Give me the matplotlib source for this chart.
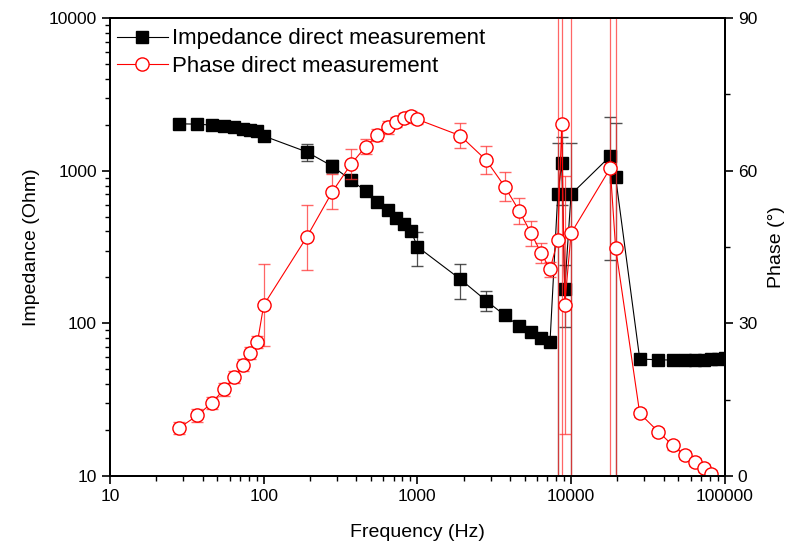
import numpy as np
import matplotlib
matplotlib.use("Agg")
import matplotlib.pyplot as plt
from matplotlib.lines import Line2D
from matplotlib.ticker import FuncFormatter, LogLocator, MultipleLocator

plt.rcParams['font.family'] = ['Liberation Sans', 'DejaVu Sans']

# --- data ---
freq = [28, 37, 46, 55, 64, 73, 82, 91, 100,
        190, 280, 370, 460, 550, 640, 730, 820, 910, 1000,
        1900, 2800, 3700, 4600, 5500, 6400, 7300, 8200, 8700, 9100, 10000,
        18000, 19500, 28000, 37000, 46000, 55000, 64000, 73000, 82000, 91000, 100000]

impedance = [2030, 2020, 1990, 1960, 1925, 1890, 1860, 1830, 1690,
             1330, 1070, 867, 738, 626, 552, 492, 445, 402, 318,
             195, 141, 113, 96, 88, 80.5, 76, 700, 1127, 168, 700,
             1247, 908, 58.4, 57.7, 57.5, 57.5, 57.5, 57.8, 58.2, 58.6, 59]

imp_err = [30, 30, 30, 30, 30, 30, 30, 30, 130,
           175, 110, 60, 30, 15, 15, 15, 15, 15, 80,
           50, 21, 8, 5, 4, 4, 3, 824, 530, 73, 824,
           986, 1135, 1, 1, 1, 1, 1, 1, 1, 1, 1]

phase = [9.4, 11.9, 14.4, 17.0, 19.4, 21.8, 24.1, 26.3, 33.6,
         46.9, 55.9, 61.3, 64.7, 67.0, 68.5, 69.6, 70.3, 70.7, 70.1,
         66.9, 62.1, 56.9, 52.1, 47.7, 43.8, 40.6, 46.4, 69.1, 33.6, 47.7,
         60.5, 44.9, 12.3, 8.7, 6.0, 4.1, 2.8, 1.5, 0.4, -1.8, -3.0]

phase_err = [1.2, 1.2, 1.2, 1.2, 1.2, 1.2, 1.2, 1.2, 8.0,
             6.4, 3.5, 3.0, 1.5, 1.2, 1.2, 1.0, 1.0, 1.0, 1.0,
             2.5, 2.7, 2.8, 2.5, 2.5, 2.0, 1.5, 60, 75, 25.4, 60,
             70, 60, 0.8, 0.8, 0.8, 0.8, 0.8, 0.8, 0.8, 0.8, 0.8]

fig = plt.figure(figsize=(7.92, 5.49), dpi=100)
ax1 = fig.add_axes([0.139, 0.133, 0.776, 0.834])
ax2 = ax1.twinx()

ax1.errorbar(freq, impedance, yerr=imp_err, color="black", marker="s",
             markersize=8, linewidth=0.8, elinewidth=0.9, capsize=4,
             ecolor=(0.15, 0.15, 0.15, 0.8))
ax2.errorbar(freq, phase, yerr=phase_err, color="red", marker="o",
             markersize=9.5, markerfacecolor="white", markeredgewidth=1.0,
             linewidth=0.8, elinewidth=0.9, capsize=4,
             ecolor=(1, 0.2, 0.2, 0.75))

ax1.set_xscale("log")
ax1.set_yscale("log")
ax1.set_xlim(10, 100000)
ax1.set_ylim(10, 10000)
ax2.set_ylim(0, 90)

ax1.xaxis.set_major_formatter(FuncFormatter(lambda v, p: f"{int(round(v))}"))
ax1.yaxis.set_major_formatter(FuncFormatter(lambda v, p: f"{int(round(v))}"))
ax1.xaxis.set_minor_locator(LogLocator(base=10, subs=np.arange(2, 10)))
ax1.yaxis.set_minor_locator(LogLocator(base=10, subs=np.arange(2, 10)))
ax1.xaxis.set_minor_formatter(FuncFormatter(lambda v, p: ""))
ax1.yaxis.set_minor_formatter(FuncFormatter(lambda v, p: ""))
ax2.yaxis.set_major_locator(MultipleLocator(30))
ax2.yaxis.set_minor_locator(MultipleLocator(15))

for ax in (ax1, ax2):
    ax.tick_params(which="major", length=6, width=1.2, labelsize=12.5)
    ax.tick_params(which="minor", length=3.5, width=1.0)
    for s in ax.spines.values():
        s.set_linewidth(1.4)
ax1.tick_params(top=False)

ax1.set_xlabel("Frequency (Hz)", fontsize=14, labelpad=14)
ax1.set_ylabel("Impedance (Ohm)", fontsize=14, labelpad=6)
ax2.set_ylabel("Phase (°)", fontsize=14, labelpad=8)

# legend: plain line + marker, no error bars
h1 = Line2D([], [], color="black", marker="s", markersize=8, linewidth=0.8)
h2 = Line2D([], [], color="red", marker="o", markersize=9.5,
            markerfacecolor="white", linewidth=0.8)
ax2.legend(handles=[h1, h2],
           labels=["Impedance direct measurement", "Phase direct measurement"],
           loc="upper left", frameon=False, fontsize=16,
           handlelength=2.3, borderaxespad=0.0, labelspacing=0.3,
           handletextpad=0.2, bbox_to_anchor=(-0.004, 0.997))

plt.savefig("out.png", dpi=100)
